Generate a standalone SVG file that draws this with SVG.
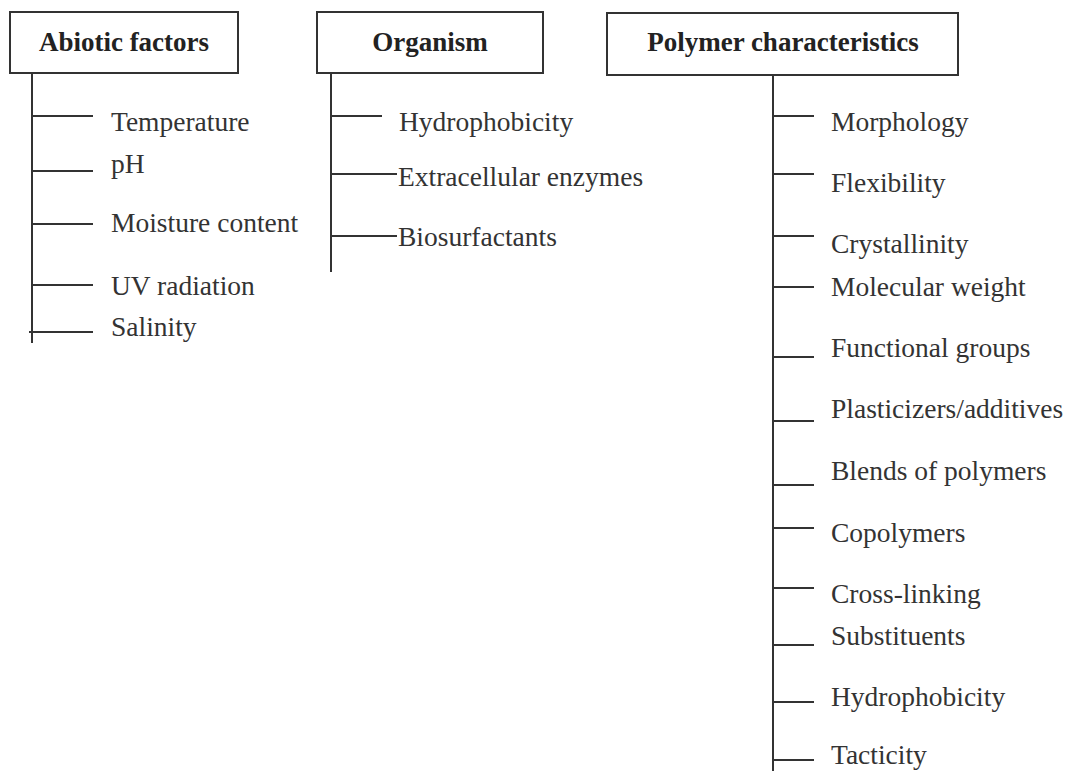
<svg xmlns="http://www.w3.org/2000/svg" width="1066" height="771" viewBox="0 0 1066 771">
<style>
.box{fill:#fff;stroke:#333;stroke-width:2}
.hd{font-family:"Liberation Serif",serif;font-weight:bold;font-size:27px;fill:#222;text-anchor:middle}
.lb{font-family:"Liberation Serif",serif;font-size:27.5px;fill:#333}
.ln{stroke:#333;stroke-width:2;fill:none}
</style>
<rect width="1066" height="771" fill="#fff"/>
<g id="connectors">
<path class="ln" d="M32 73V343M32 116H93M32 171H93M32 224H93M32 285H93M29 332H93"/>
<path class="ln" d="M331 73V272M331 116H382M331 174H397M331 236H397"/>
<path class="ln" d="M773 75V771M773 116H814M773 174H814M773 236H814M773 287H814M773 357H814M773 421H814M773 485H814M773 528H814M773 588H814M773 645H814M773 702H814M773 760H814"/>
</g>
<g id="abiotic">
<rect class="box" x="10" y="12" width="228" height="61"/>
<text class="hd" x="124" y="51">Abiotic factors</text>
</g>
<g id="abiotic-items">
<text class="lb" x="111" y="131">Temperature</text>
<text class="lb" x="111" y="173">pH</text>
<text class="lb" x="111" y="232">Moisture content</text>
<text class="lb" x="111" y="295">UV radiation</text>
<text class="lb" x="111" y="336">Salinity</text>
</g>
<g id="organism">
<rect class="box" x="317" y="12" width="226" height="61"/>
<text class="hd" x="430" y="51">Organism</text>
</g>
<g id="organism-items">
<text class="lb" x="399" y="131">Hydrophobicity</text>
<text class="lb" x="398" y="186">Extracellular enzymes</text>
<text class="lb" x="398" y="246">Biosurfactants</text>
</g>
<g id="polymer">
<rect class="box" x="607" y="13" width="351" height="62"/>
<text class="hd" x="783" y="51">Polymer characteristics</text>
</g>
<g id="polymer-items">
<text class="lb" x="831" y="131">Morphology</text>
<text class="lb" x="831" y="192">Flexibility</text>
<text class="lb" x="831" y="253">Crystallinity</text>
<text class="lb" x="831" y="296">Molecular weight</text>
<text class="lb" x="831" y="357">Functional groups</text>
<text class="lb" x="831" y="418">Plasticizers/additives</text>
<text class="lb" x="831" y="480">Blends of polymers</text>
<text class="lb" x="831" y="542">Copolymers</text>
<text class="lb" x="831" y="603">Cross-linking</text>
<text class="lb" x="831" y="645">Substituents</text>
<text class="lb" x="831" y="706">Hydrophobicity</text>
<text class="lb" x="831" y="764">Tacticity</text>
</g>
</svg>
